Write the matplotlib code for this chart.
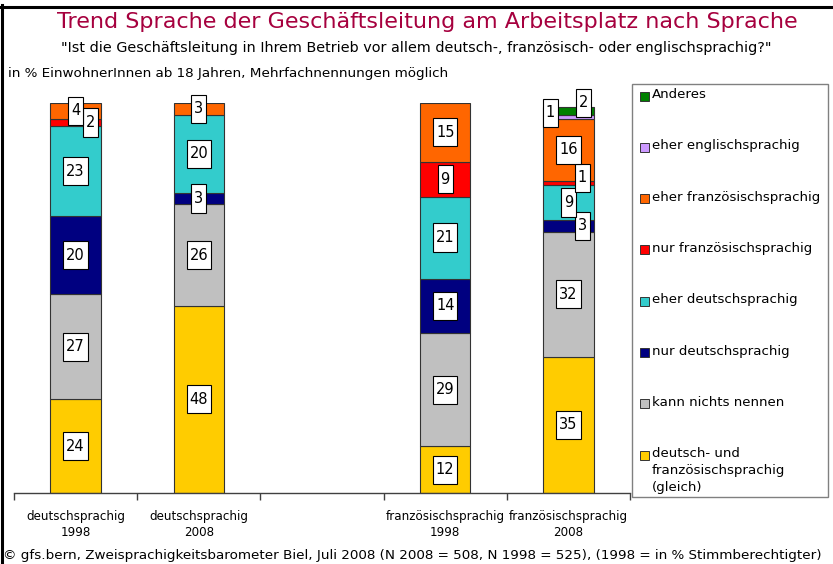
from __future__ import annotations

import matplotlib

matplotlib.use("Agg")

import matplotlib.pyplot as plt
from matplotlib.lines import Line2D
from matplotlib.patches import Rectangle
from matplotlib.path import Path

WIDTH_PX = 833
HEIGHT_PX = 564
DPI = 100

CATEGORIES = [
    "deutschsprachig\n1998",
    "deutschsprachig\n2008",
    "",
    "französischsprachig\n1998",
    "französischsprachig\n2008",
]

# stacked from bottom to top
SERIES_NAMES = [
    "deutsch- und\nfranzösischsprachig\n(gleich)",
    "kann nichts nennen",
    "nur deutschsprachig",
    "eher deutschsprachig",
    "nur französischsprachig",
    "eher französischsprachig",
    "eher englischsprachig",
    "Anderes",
]

GLEICH = [24, 48, 0, 12, 35]
NICHTS_NENNEN = [27, 26, 0, 29, 32]
NUR_DEUTSCH = [20, 3, 0, 14, 3]
EHER_DEUTSCH = [23, 20, 0, 21, 9]
NUR_FRANZ = [2, 0, 0, 9, 1]
EHER_FRANZ = [4, 3, 0, 15, 16]
EHER_ENGLISCH = [0, 0, 0, 0, 1]
ANDERES = [0, 0, 0, 0, 2]

SERIES_VALUES = [
    GLEICH,
    NICHTS_NENNEN,
    NUR_DEUTSCH,
    EHER_DEUTSCH,
    NUR_FRANZ,
    EHER_FRANZ,
    EHER_ENGLISCH,
    ANDERES,
]

COLORS = [
    "#FFCC00",
    "#C0C0C0",
    "#000080",
    "#33CCCC",
    "#FF0000",
    "#FF6600",
    "#CC99FF",
    "#008000",
]

# label nudges in pixels (series index, category index) -> (dx, dy)
LABEL_NUDGES = {
    (4, 0): (15, 0),
    (2, 4): (14, 0),
    (4, 4): (14, 5),
    (6, 4): (-18, 4),
    (7, 4): (15, 8),
}

TITLE_COLOR = "#A6003E"


def px_x(value: float) -> float:
    return value / WIDTH_PX


def px_y(value: float) -> float:
    return 1.0 - value / HEIGHT_PX


def tall_box(x0, y0, width, height, mutation_size):
    pad_x = mutation_size * 0.2
    pad_y = mutation_size * 0.45
    left, right = x0 - pad_x, x0 + width + pad_x
    bottom, top = y0 - pad_y, y0 + height + pad_y
    return Path(
        [(left, bottom), (right, bottom), (right, top), (left, top), (left, bottom)],
        closed=True,
    )


def draw_bars(axis) -> None:
    positions = range(len(CATEGORIES))
    bottoms = [0.0] * len(CATEGORIES)
    units_per_px = 5.0 / 616.0
    percent_per_px = 100.0 / 390.0

    for series_index, (values, color) in enumerate(zip(SERIES_VALUES, COLORS)):
        for position in positions:
            value = values[position]
            if value <= 0:
                continue
            axis.bar(
                position,
                value,
                bottom=bottoms[position],
                width=0.41,
                color=color,
                edgecolor="#333333",
                linewidth=0.8,
                zorder=2,
            )
            dx, dy = LABEL_NUDGES.get((series_index, position), (0, 0))
            axis.text(
                position + dx * units_per_px,
                bottoms[position] + value / 2 + dy * percent_per_px,
                f"{value}",
                ha="center",
                va="center",
                fontsize=10.5,
                zorder=4,
                bbox=dict(
                    boxstyle=tall_box,
                    facecolor="white",
                    edgecolor="black",
                    linewidth=0.8,
                ),
            )
            bottoms[position] += value


def draw_legend(figure) -> None:
    figure.add_artist(
        Rectangle(
            (px_x(632), px_y(497)),
            px_x(828) - px_x(632),
            px_y(84) - px_y(497),
            transform=figure.transFigure,
            facecolor="white",
            edgecolor="#808080",
            linewidth=1.0,
        )
    )

    entries = list(zip(SERIES_NAMES, COLORS))[::-1]
    for index, (name, color) in enumerate(entries):
        center_y = 96 + index * 51.3
        figure.add_artist(
            Rectangle(
                (px_x(640), px_y(center_y + 4.5)),
                px_x(9),
                9 / HEIGHT_PX,
                transform=figure.transFigure,
                facecolor=color,
                edgecolor="#333333",
                linewidth=0.7,
            )
        )
        figure.text(
            px_x(652),
            px_y(center_y - 8),
            name,
            ha="left",
            va="top",
            fontsize=9.6,
            linespacing=1.4,
        )


def main() -> None:
    plt.rcParams["font.family"] = ["DejaVu Sans"]

    figure = plt.figure(figsize=(WIDTH_PX / DPI, HEIGHT_PX / DPI), dpi=DPI)

    axis = figure.add_axes([px_x(14), 71 / HEIGHT_PX, 616 / WIDTH_PX, 390 / HEIGHT_PX])

    draw_bars(axis)

    axis.set_xlim(-0.5, len(CATEGORIES) - 0.5)
    axis.set_ylim(0, 100)
    axis.set_yticks([])

    axis.set_xticks([value - 0.5 for value in range(len(CATEGORIES) + 1)])
    axis.set_xticklabels([])
    axis.set_xticks(range(len(CATEGORIES)), minor=True)
    axis.set_xticklabels(CATEGORIES, minor=True, fontsize=8.6, linespacing=1.3)
    axis.tick_params(axis="x", which="major", length=5, color="#404040", width=1)
    axis.tick_params(axis="x", which="minor", length=0, pad=12)

    for side in ["left", "right", "top"]:
        axis.spines[side].set_visible(False)
    axis.spines["bottom"].set_color("#404040")
    axis.spines["bottom"].set_linewidth(1)

    draw_legend(figure)

    figure.text(
        px_x(427),
        px_y(22),
        "Trend Sprache der Geschäftsleitung am Arbeitsplatz nach Sprache",
        ha="center",
        va="center",
        fontsize=16,
        color=TITLE_COLOR,
    )
    figure.text(
        px_x(416),
        px_y(48),
        '"Ist die Geschäftsleitung in Ihrem Betrieb vor allem deutsch-, '
        'französisch- oder englischsprachig?"',
        ha="center",
        va="center",
        fontsize=10.4,
    )
    figure.text(
        px_x(8),
        px_y(74),
        "in % EinwohnerInnen ab 18 Jahren, Mehrfachnennungen möglich",
        ha="left",
        va="center",
        fontsize=9.7,
    )
    figure.text(
        px_x(3),
        px_y(555),
        "© gfs.bern, Zweisprachigkeitsbarometer Biel, Juli 2008 "
        "(N 2008 = 508, N 1998 = 525), (1998 = in % Stimmberechtigter)",
        ha="left",
        va="center",
        fontsize=9.7,
    )

    # heavy frame on the left and top edge
    figure.add_artist(
        Line2D([px_x(1.5), px_x(1.5)], [0, px_y(5)], transform=figure.transFigure,
               color="black", linewidth=2.2)
    )
    figure.add_artist(
        Line2D([0, 1], [px_y(6.5), px_y(6.5)], transform=figure.transFigure,
               color="black", linewidth=2.2)
    )

    figure.savefig("out.png", dpi=DPI)
    plt.close(figure)


if __name__ == "__main__":
    main()
